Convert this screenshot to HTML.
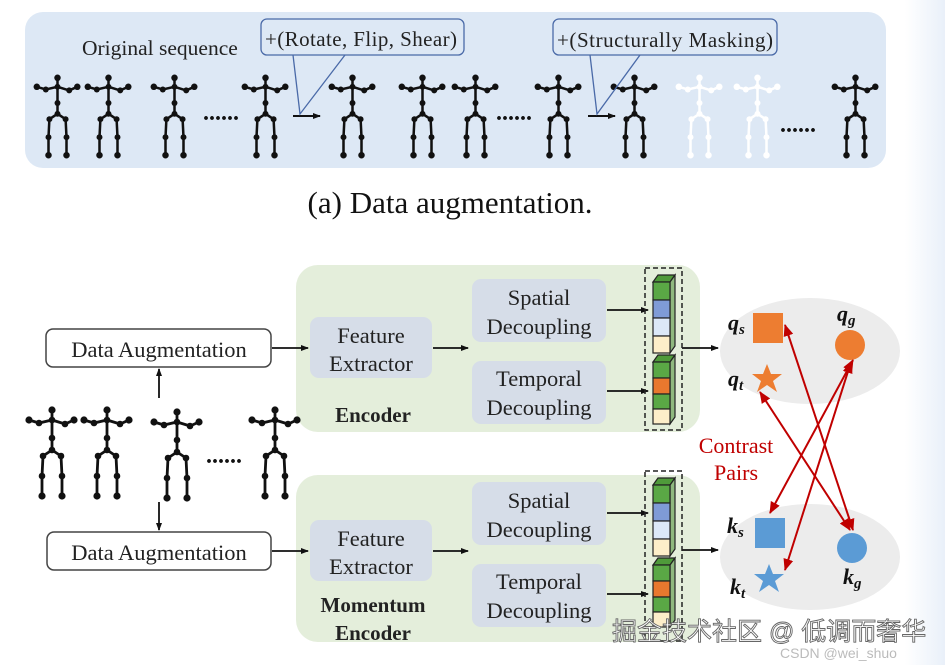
<!DOCTYPE html>
<html><head><meta charset="utf-8"><style>
html,body{margin:0;padding:0;background:#fff;}
svg{display:block;}
text{font-family:"Liberation Serif",serif;}
text.sans{font-family:"Liberation Sans","Noto Sans CJK SC",sans-serif;}
</style></head><body>
<svg width="945" height="665" viewBox="0 0 945 665" xmlns="http://www.w3.org/2000/svg">
<defs>
<linearGradient id="rs" x1="0" x2="1"><stop offset="0" stop-color="#ffffff"/><stop offset="1" stop-color="#e9f0f9"/></linearGradient>
<g id="sk">
 <g stroke-width="2.8" fill="none" stroke-linecap="round">
  <polyline points="25,2 25,12 25,30 25,42"/>
  <polyline points="2,12 12,15 25,12 38,16 47,12"/>
  <polyline points="15,88 15,68 16,48 25,42 34,48 35,68 35,88"/>
 </g>
 <g stroke="none">
  <circle cx="25" cy="2" r="3.6"/><circle cx="25" cy="12" r="3.3"/><circle cx="25" cy="30" r="3.3"/><circle cx="25" cy="42" r="3.3"/>
  <circle cx="2" cy="12" r="3.6"/><circle cx="12" cy="15" r="3.3"/><circle cx="38" cy="16" r="3.3"/><circle cx="47" cy="12" r="3.6"/>
  <circle cx="16" cy="48" r="3.3"/><circle cx="34" cy="48" r="3.3"/><circle cx="15" cy="68" r="3.3"/><circle cx="35" cy="68" r="3.3"/>
  <circle cx="15" cy="88" r="3.6"/><circle cx="35" cy="88" r="3.6"/>
 </g>
</g>
<marker id="ab" markerWidth="8" markerHeight="8" refX="7" refY="4" orient="auto" markerUnits="userSpaceOnUse"><path d="M0,1 L8,4 L0,7z" fill="#111"/></marker>
<marker id="ar" markerWidth="12" markerHeight="10" refX="11" refY="5" orient="auto-start-reverse" markerUnits="userSpaceOnUse"><path d="M0,0 L12,5 L0,10z" fill="#c00000"/></marker>
</defs>
<rect x="905" y="0" width="40" height="665" fill="url(#rs)"/>
<rect x="25" y="12" width="861" height="156" rx="18" fill="#dde8f5"/>
<text x="82" y="55" font-size="21.5" fill="#222">Original sequence</text>
<g fill="#111" stroke="#111">
 <use href="#sk" transform="translate(35,76) scale(0.9)"/>
 <use href="#sk" transform="translate(86,76) scale(0.9)"/>
 <use href="#sk" transform="translate(152,76) scale(0.9)"/>
 <use href="#sk" transform="translate(243,76) scale(0.9)"/>
 <use href="#sk" transform="translate(330,76) scale(0.9)"/>
 <use href="#sk" transform="translate(400,76) scale(0.9)"/>
 <use href="#sk" transform="translate(453,76) scale(0.9)"/>
 <use href="#sk" transform="translate(536,76) scale(0.9)"/>
 <use href="#sk" transform="translate(612,76) scale(0.9)"/>
 <use href="#sk" transform="translate(833,76) scale(0.9)"/>
</g>
<g fill="#fff" stroke="#fff">
 <use href="#sk" transform="translate(677,76) scale(0.9)"/>
 <use href="#sk" transform="translate(735,76) scale(0.9)"/>
</g>
<text x="203" y="120" font-size="24" font-weight="bold" fill="#111">......</text>
<text x="496" y="120" font-size="24" font-weight="bold" fill="#111">......</text>
<text x="780" y="132" font-size="24" font-weight="bold" fill="#111">......</text>
<line x1="293" y1="116" x2="320" y2="116" stroke="#111" stroke-width="2" marker-end="url(#ab)"/>
<line x1="588" y1="116" x2="615" y2="116" stroke="#111" stroke-width="2" marker-end="url(#ab)"/>
<g stroke="#4a6aa8" stroke-width="1.3" fill="#dde8f5">
 <rect x="261" y="19" width="203" height="36" rx="6"/>
 <rect x="553" y="19" width="224" height="36" rx="6"/>
 <polyline points="293,55 300,114 345,55" fill="none"/>
 <polyline points="590,55 597,114 640,55" fill="none"/>
</g>
<text x="265" y="46" font-size="21" fill="#222" textLength="192">+(Rotate, Flip, Shear)</text>
<text x="557" y="47" font-size="21" fill="#222" textLength="216">+(Structurally Masking)</text>
<text x="450" y="213" font-size="31" fill="#111" text-anchor="middle">(a) Data augmentation.</text>

<rect x="296" y="265" width="404" height="167" rx="22" fill="#e4eedb"/>
<rect x="296" y="475" width="404" height="167" rx="22" fill="#e4eedb"/>
<g fill="#d6dde8">
 <rect x="310" y="317" width="122" height="61" rx="9"/>
 <rect x="472" y="279" width="134" height="63" rx="9"/>
 <rect x="472" y="361" width="134" height="63" rx="9"/>
 <rect x="310" y="520" width="122" height="61" rx="9"/>
 <rect x="472" y="482" width="134" height="63" rx="9"/>
 <rect x="472" y="564" width="134" height="63" rx="9"/>
</g>
<g font-size="22.5" fill="#222" text-anchor="middle">
 <text x="371" y="343">Feature</text><text x="371" y="371">Extractor</text>
 <text x="539" y="305">Spatial</text><text x="539" y="334">Decoupling</text>
 <text x="539" y="386">Temporal</text><text x="539" y="415">Decoupling</text>
 <text x="371" y="546">Feature</text><text x="371" y="574">Extractor</text>
 <text x="539" y="508">Spatial</text><text x="539" y="537">Decoupling</text>
 <text x="539" y="589">Temporal</text><text x="539" y="618">Decoupling</text>
</g>
<g font-size="21" fill="#222" text-anchor="middle" font-weight="bold">
 <text x="373" y="422">Encoder</text>
 <text x="373" y="612">Momentum</text>
 <text x="373" y="640">Encoder</text>
</g>
<g fill="#fff" stroke="#444" stroke-width="1.5">
 <rect x="46" y="329" width="225" height="38" rx="7"/>
 <rect x="47" y="532" width="224" height="38" rx="7"/>
</g>
<g font-size="22.5" fill="#222" text-anchor="middle">
 <text x="159" y="357">Data Augmentation</text>
 <text x="159" y="560">Data Augmentation</text>
</g>
<g fill="#111" stroke="#111">
 <use href="#sk" transform="translate(27,408) scale(1)"/>
 <use href="#sk" transform="translate(82,408) scale(1)"/>
 <use href="#sk" transform="translate(152,410) scale(1)"/>
 <use href="#sk" transform="translate(250,408) scale(1)"/>
</g>
<text x="206" y="463" font-size="24" font-weight="bold" fill="#111">......</text>
<g stroke="#111" stroke-width="1.8" marker-end="url(#ab)">
 <line x1="159" y1="398" x2="159" y2="369"/>
 <line x1="159" y1="502" x2="159" y2="530"/>
 <line x1="272" y1="348" x2="308" y2="348"/>
 <line x1="272" y1="551" x2="308" y2="551"/>
 <line x1="433" y1="348" x2="468" y2="348"/>
 <line x1="433" y1="551" x2="468" y2="551"/>
 <line x1="607" y1="310" x2="648" y2="310"/>
 <line x1="607" y1="391" x2="648" y2="391"/>
 <line x1="607" y1="513" x2="648" y2="513"/>
 <line x1="607" y1="594" x2="648" y2="594"/>
 <line x1="682" y1="348" x2="718" y2="348"/>
 <line x1="682" y1="550" x2="718" y2="550"/>
</g>
<g stroke="#222" stroke-width="1.2">
 <polygon points="653,282 658,275 675,275 670,282" fill="#4f9a3a"/>
 <polygon points="670,282 675,275 675,346 670,353" fill="#8fb87f"/>
 <rect x="653" y="282" width="17" height="18" fill="#5aa845"/>
 <rect x="653" y="300" width="17" height="18" fill="#7f9bd6"/>
 <rect x="653" y="318" width="17" height="18" fill="#dce8f8"/>
 <rect x="653" y="336" width="17" height="17" fill="#fdeec9"/>
</g>
<g stroke="#222" stroke-width="1.2">
 <polygon points="653,362 658,355 675,355 670,362" fill="#4f9a3a"/>
 <polygon points="670,362 675,355 675,417 670,424" fill="#8fb87f"/>
 <rect x="653" y="362" width="17" height="16" fill="#5aa845"/>
 <rect x="653" y="378" width="17" height="16" fill="#e9782e"/>
 <rect x="653" y="394" width="17" height="15" fill="#5aa845"/>
 <rect x="653" y="409" width="17" height="15" fill="#fdeec9"/>
</g>
<rect x="645" y="268" width="37" height="162" fill="none" stroke="#222" stroke-width="1.5" stroke-dasharray="5,3"/>
<g stroke="#222" stroke-width="1.2">
 <polygon points="653,485 658,478 675,478 670,485" fill="#4f9a3a"/>
 <polygon points="670,485 675,478 675,549 670,556" fill="#8fb87f"/>
 <rect x="653" y="485" width="17" height="18" fill="#5aa845"/>
 <rect x="653" y="503" width="17" height="18" fill="#7f9bd6"/>
 <rect x="653" y="521" width="17" height="18" fill="#dce8f8"/>
 <rect x="653" y="539" width="17" height="17" fill="#fdeec9"/>
</g>
<g stroke="#222" stroke-width="1.2">
 <polygon points="653,565 658,558 675,558 670,565" fill="#4f9a3a"/>
 <polygon points="670,565 675,558 675,620 670,627" fill="#8fb87f"/>
 <rect x="653" y="565" width="17" height="16" fill="#5aa845"/>
 <rect x="653" y="581" width="17" height="16" fill="#e9782e"/>
 <rect x="653" y="597" width="17" height="15" fill="#5aa845"/>
 <rect x="653" y="612" width="17" height="15" fill="#fdeec9"/>
</g>
<rect x="645" y="471" width="37" height="170" fill="none" stroke="#222" stroke-width="1.5" stroke-dasharray="5,3"/>
<ellipse cx="810" cy="351" rx="90" ry="53" fill="#ececec"/>
<ellipse cx="810" cy="557" rx="90" ry="53" fill="#ececec"/>
<rect x="753" y="313" width="30" height="30" fill="#ed7d31"/>
<circle cx="850" cy="345" r="15" fill="#ed7d31"/>
<polygon points="767,364 771,374 782,374 773,381 777,392 767,385 757,392 761,381 752,374 763,374" fill="#ed7d31"/>
<rect x="755" y="518" width="30" height="30" fill="#5b9bd5"/>
<circle cx="852" cy="548" r="15" fill="#5b9bd5"/>
<polygon points="769,564 773,574 784,574 775,581 779,592 769,585 759,592 763,581 754,574 765,574" fill="#5b9bd5"/>
<g font-size="22" font-weight="bold" font-style="italic" fill="#111">
 <text x="728" y="330">q<tspan font-size="15" dy="4">s</tspan></text>
 <text x="837" y="321">q<tspan font-size="15" dy="4">g</tspan></text>
 <text x="728" y="386">q<tspan font-size="15" dy="4">t</tspan></text>
 <text x="727" y="533">k<tspan font-size="15" dy="4">s</tspan></text>
 <text x="843" y="584">k<tspan font-size="15" dy="4">g</tspan></text>
 <text x="730" y="594">k<tspan font-size="15" dy="4">t</tspan></text>
</g>
<text x="736" y="453" font-size="22" fill="#c00000" text-anchor="middle">Contrast</text>
<text x="736" y="480" font-size="22" fill="#c00000" text-anchor="middle">Pairs</text>
<g stroke="#c00000" stroke-width="2" marker-start="url(#ar)" marker-end="url(#ar)">
 <line x1="785" y1="325" x2="853" y2="530"/>
 <line x1="760" y1="392" x2="850" y2="530"/>
 <line x1="853" y1="360" x2="770" y2="513"/>
 <line x1="851" y1="362" x2="785" y2="570"/>
</g>
<text class="sans" x="612" y="640" font-size="25" fill="#fff" stroke="#666" stroke-width="0.9">掘金技术社区 @ 低调而奢华</text>
<text class="sans" x="780" y="658" font-size="14" fill="#bbb">CSDN @wei_shuo</text>
</svg>
</body></html>
